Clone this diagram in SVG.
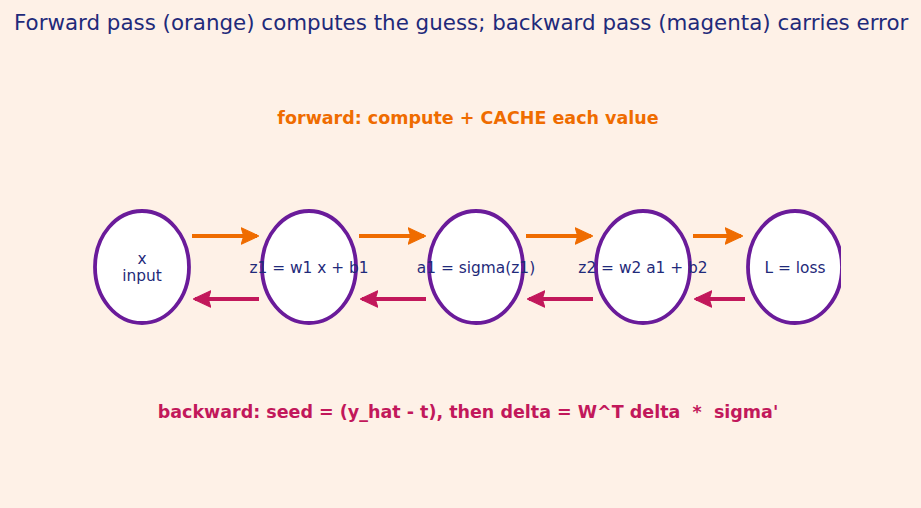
<svg xmlns="http://www.w3.org/2000/svg" width="921" height="508" viewBox="0 0 921 508">
<style>
.bg{fill:#fef1e7}
.node{fill:#ffffff;stroke:#6a1b9a;stroke-width:3.8}
.lbl{font-family:"DejaVu Sans",sans-serif;font-size:15.4px;fill:#1f2a7a;text-anchor:middle}
.fwd{stroke:#ef6c00;stroke-width:4;fill:none}
.bwd{stroke:#c2185b;stroke-width:4;fill:none}
.title{font-family:"DejaVu Sans",sans-serif;font-size:21.4px;fill:#1f2a7a}
.cap{font-family:"DejaVu Sans",sans-serif;font-size:17.5px;font-weight:bold;text-anchor:middle;white-space:pre}
</style>
<defs>
<marker id="ao" viewBox="0 0 10 10" refX="9" refY="5" markerWidth="4.4" markerHeight="4.4" orient="auto" markerUnits="strokeWidth"><path d="M0,0.3 L10,5 L0,9.7 L1.5,5 z" fill="#ef6c00" stroke="#ef6c00" stroke-width="0.6" stroke-linejoin="round"/></marker>
<marker id="am" viewBox="0 0 10 10" refX="9" refY="5" markerWidth="4.4" markerHeight="4.4" orient="auto" markerUnits="strokeWidth"><path d="M0,0.3 L10,5 L0,9.7 L1.5,5 z" fill="#c2185b" stroke="#c2185b" stroke-width="0.6" stroke-linejoin="round"/></marker>
<clipPath id="clip"><rect x="0" y="0" width="841" height="508"/></clipPath>
</defs>
<rect class="bg" x="0" y="0" width="921" height="508"/>
<text class="title" x="14" y="30">Forward pass (orange) computes the guess; backward pass (magenta) carries error</text>
<text class="cap" x="468" y="124" fill="#ef6c00">forward: compute + CACHE each value</text>
<g clip-path="url(#clip)">
<g id="n1"><ellipse class="node" cx="142" cy="267" rx="47" ry="56"/><text class="lbl" x="142" y="264">x</text><text class="lbl" x="142" y="281">input</text></g>
<g id="n2"><ellipse class="node" cx="309" cy="267" rx="47" ry="56"/><text class="lbl" x="309" y="273">z1 = w1 x + b1</text></g>
<g id="n3"><ellipse class="node" cx="476" cy="267" rx="47" ry="56"/><text class="lbl" x="476" y="273">a1 = sigma(z1)</text></g>
<g id="n4"><ellipse class="node" cx="643" cy="267" rx="47" ry="56"/><text class="lbl" x="643" y="273">z2 = w2 a1 + b2</text></g>
<g id="n5"><ellipse class="node" cx="795" cy="267" rx="47" ry="56"/><text class="lbl" x="795" y="273">L = loss</text></g>
</g>
<g id="connectors">
<line class="fwd" x1="192" y1="236" x2="257" y2="236" marker-end="url(#ao)"/>
<line class="fwd" x1="359" y1="236" x2="424" y2="236" marker-end="url(#ao)"/>
<line class="fwd" x1="526" y1="236" x2="591" y2="236" marker-end="url(#ao)"/>
<line class="fwd" x1="693" y1="236" x2="741" y2="236" marker-end="url(#ao)"/>
<line class="bwd" x1="259" y1="299" x2="195" y2="299" marker-end="url(#am)"/>
<line class="bwd" x1="426" y1="299" x2="362" y2="299" marker-end="url(#am)"/>
<line class="bwd" x1="593" y1="299" x2="529" y2="299" marker-end="url(#am)"/>
<line class="bwd" x1="745" y1="299" x2="696" y2="299" marker-end="url(#am)"/>
</g>
<text class="cap" x="468" y="418" fill="#c2185b">backward: seed = (y_hat - t), then delta = W^T delta  *  sigma'</text>
</svg>
